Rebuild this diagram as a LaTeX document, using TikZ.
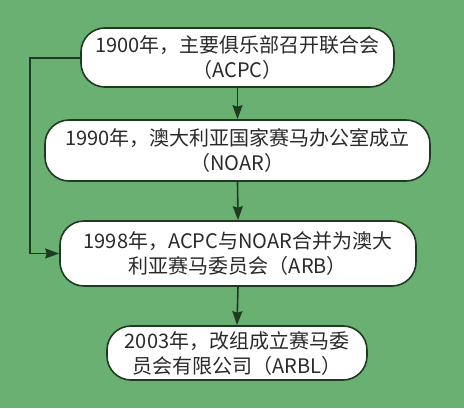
\documentclass[tikz,border=0pt]{standalone}
\usepackage{fontspec}
\setmainfont{Noto Sans CJK SC}
\usetikzlibrary{arrows.meta}
\definecolor{bg}{HTML}{6BB073}
\definecolor{edge}{HTML}{1E3B21}
\definecolor{txt}{HTML}{2A2A2A}
\begin{document}
\begin{tikzpicture}[x=1pt,y=1pt,
  box/.style={draw=edge, line width=1.6pt, fill=white, rounded corners=24pt,
    align=center, text=txt, font=\fontsize{20}{25}\selectfont, inner sep=0pt},
  conn/.style={draw=edge, line width=1.6pt, -{Stealth[length=14pt,width=10pt,inset=1.5pt]}}]
\fill[bg] (0,0) rectangle (464,408);
\useasboundingbox (0,0) rectangle (464,408);
\node[box, minimum width=313pt, minimum height=59pt] (b1) at (237.5,350.5) {1900年，主要俱乐部召开联合会\\（ACPC）};
\node[box, minimum width=385pt, minimum height=61pt] (b2) at (237.5,257.5) {1990年，澳大利亚国家赛马办公室成立\\（NOAR）};
\node[box, minimum width=356pt, minimum height=65pt] (b3) at (238,154.5) {1998年，ACPC与NOAR合并为澳大\\利亚赛马委员会（ARB）};
\node[box, minimum width=260pt, minimum height=54pt] (b4) at (237,55) {2003年，改组成立赛马委\\员会有限公司（ARBL）};
\draw[conn] (b1.south) -- (b2.north);
\draw[conn] (b2.south) -- (b3.north);
\draw[conn] (b3.south) -- (b4.north);
\coordinate (c1) at (30,350);
\draw[conn] (b1.west |- 0,350) -- (c1) |- (b3.west);
\end{tikzpicture}
\end{document}
